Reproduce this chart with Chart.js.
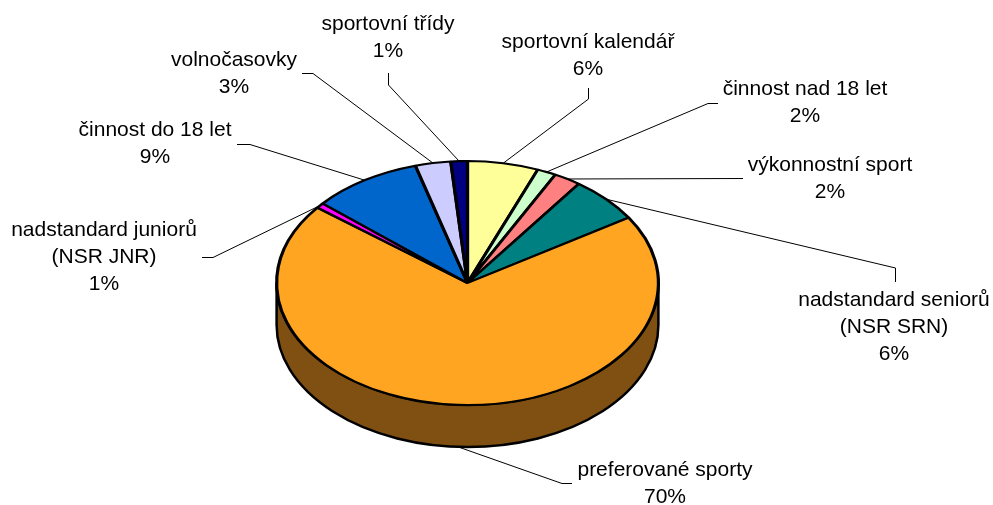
<!DOCTYPE html>
<html>
<head>
<meta charset="utf-8">
<script src="https://cdn.jsdelivr.net/npm/chart.js@4"></script>
<style>
  html, body { margin: 0; padding: 0; background: #fff; }
  #wrap { width: 993px; height: 505px; position: relative; }
</style>
</head>
<body>
<div id="wrap"><canvas id="pieChart"></canvas></div>
<script>
// data (clockwise from 12 o'clock)
const categories = [
    ['sportovní kalendář'],
    ['činnost nad 18 let'],
    ['výkonnostní sport'],
    ['nadstandard seniorů', '(NSR SRN)'],
    ['preferované sporty'],
    ['nadstandard juniorů', '(NSR JNR)'],
    ['činnost do 18 let'],
    ['volnočasovky'],
    ['sportovní třídy']
];
const shares = [6.0, 1.6, 2.3, 6.1, 69.6, 0.7, 9.3, 3.0, 1.4];
const sliceColors = ['#FFFF99', '#CCFFCC', '#FF8080', '#008080', '#FFA522', '#FF00FF', '#0066CC', '#CCCCFF', '#000080'];
const sideColors = ['#80804D', '#668066', '#804040', '#004040', '#7F5012', '#800080', '#003366', '#666680', '#000040'];

// label layout: text centre x, first line y, elbow of leader, end of leader
const labelPos = [
    { x: 588, y: 42, elbow: [588.5, 99], end: [588.5, 88] },
    { x: 805, y: 89, elbow: [708, 103.5], end: [718, 103.5] },
    { x: 830, y: 165, elbow: [743, 178.5], end: [743, 178.5] },
    { x: 894, y: 300, elbow: [895.5, 268], end: [895.5, 282] },
    { x: 665, y: 470, elbow: [562, 483.5], end: [572, 483.5] },
    { x: 104, y: 230, elbow: [213, 257.5], end: [202, 257.5] },
    { x: 155, y: 130, elbow: [250, 144.5], end: [237, 144.5] },
    { x: 234, y: 60, elbow: [313, 73.5], end: [302, 73.5] },
    { x: 388, y: 24, elbow: [388.5, 85], end: [388.5, 73] }
];

const TILT = 0.639;   // vertical squash of the pie
const DEPTH = 42;     // height of the side wall

const flatPie = {
    id: 'flatPie',
    beforeDatasetsDraw(chart) {
        const arcs = chart.getDatasetMeta(0).data;
        const cx = arcs[0].x, cy = arcs[0].y, r = arcs[0].outerRadius;
        const c = chart.ctx;
        // side walls (front half only)
        c.save();
        c.lineWidth = 2.5;
        c.strokeStyle = '#000';
        c.lineJoin = 'round';
        arcs.forEach((a, i) => {
            const s = Math.max(a.startAngle, 0);
            const e = Math.min(a.endAngle, Math.PI);
            if (e <= s) return;
            c.beginPath();
            c.ellipse(cx, cy, r, r * TILT, 0, s, e);
            c.ellipse(cx, cy + DEPTH, r, r * TILT, 0, e, s, true);
            c.closePath();
            c.fillStyle = sideColors[i];
            c.fill();
            c.stroke();
        });
        c.restore();
        // squash the top surface
        c.save();
        c.translate(cx, cy);
        c.scale(1, TILT);
        c.translate(-cx, -cy);
    },
    afterDatasetsDraw(chart) {
        chart.ctx.restore();
        const arcs = chart.getDatasetMeta(0).data;
        const cx = arcs[0].x, cy = arcs[0].y, r = arcs[0].outerRadius;
        const c = chart.ctx;
        const total = shares.reduce((s, v) => s + v, 0);
        c.save();
        c.font = '21px "Liberation Sans", Arial, sans-serif';
        c.fillStyle = '#000';
        c.textAlign = 'center';
        c.textBaseline = 'middle';
        arcs.forEach((a, i) => {
            const mid = (a.startAngle + a.endAngle) / 2;
            let sx = cx + r * Math.cos(mid);
            let sy = cy + r * TILT * Math.sin(mid);
            if (Math.sin(mid) > 0.5) sy += DEPTH;
            const p = labelPos[i];
            c.beginPath();
            c.lineWidth = 1;
            c.strokeStyle = '#000';
            c.moveTo(sx, sy);
            c.lineTo(p.elbow[0], p.elbow[1]);
            c.lineTo(p.end[0], p.end[1]);
            c.stroke();
            const lines = categories[i].concat([Math.round(shares[i] / total * 100) + '%']);
            lines.forEach((t, k) => c.fillText(t, p.x, p.y + k * 27));
        });
        c.restore();
    }
};

new Chart(document.getElementById('pieChart'), {
    type: 'pie',
    data: {
        labels: categories.map(l => l.join(' ')),
        datasets: [{
            data: shares,
            backgroundColor: sliceColors,
            borderColor: '#000',
            borderWidth: 3.2
        }]
    },
    options: {
        responsive: true,
        maintainAspectRatio: false,
        animation: false,
        events: [],
        layout: { padding: { left: 275, right: 333, top: 90, bottom: 29 } },
        plugins: {
            legend: { display: false },
            tooltip: { enabled: false },
            title: { display: false }
        }
    },
    plugins: [flatPie]
});
</script>
</body>
</html>
